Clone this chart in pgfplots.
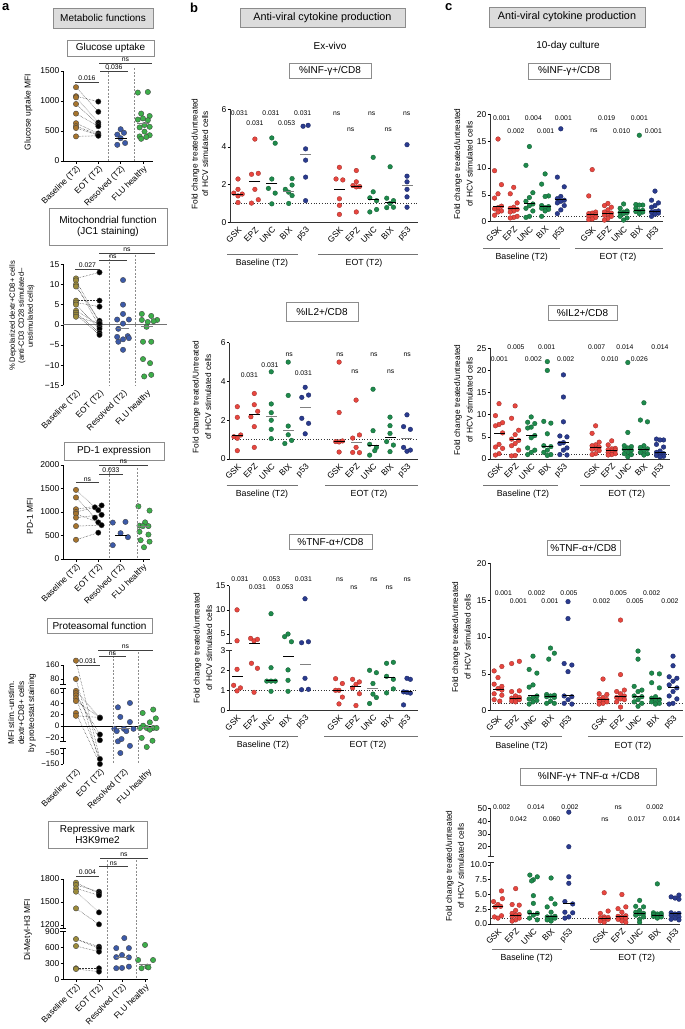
\documentclass[border=0pt]{standalone}
\usepackage{pgfplots}
\pgfplotsset{compat=1.18}
\usepackage{fontspec}
\setmainfont{Liberation Sans}
\newcommand{\fs}[2]{\fontsize{#1}{#2}\selectfont}
\definecolor{cred}{HTML}{E8463F}
\definecolor{cgreen}{HTML}{1E8A4C}
\definecolor{cblue}{HTML}{2A3B8F}
\definecolor{abrown}{HTML}{A6742D}
\definecolor{aolive}{HTML}{9C8B3A}
\definecolor{ablue}{HTML}{3C5AA8}
\definecolor{agreen}{HTML}{3DAE4A}
\definecolor{boxgray}{HTML}{DCDCDC}
\definecolor{boxedge}{HTML}{8C8C8C}
\pgfplotsset{
  base/.style={scale only axis, clip=false, anchor=south west,
    axis x line*=bottom, axis y line*=left,
    axis line style={-, line width=0.7pt, black},
    tick align=outside, major tick length=2.5pt,
    every tick/.style={line width=0.6pt, black},
    /pgf/number format/assume math mode=true,
    /pgf/number format/1000 sep={},
    yticklabel style={font=\fs{8.5}{9.5}, inner sep=1pt},
    xticklabel style={font=\fs{8.4}{9.5}, rotate=45, anchor=north east, inner sep=1pt}},
  apan/.style={base, xtick={0,1,2,3},
    xticklabels={Baseline (T2),EOT (T2),Resolved (T2),FLU healthy}},
  bpan/.style={base, xtick={0,1,2,3,4,6,7,8,9,10},
    xticklabels={GSK,EPZ,UNC,BIX,p53,GSK,EPZ,UNC,BIX,p53},
    xtick style={draw=none},
    axis line style={-, line width=0.8pt, black!80},
    xticklabel style={font=\fs{8.4}{9.5}}},
  adot/.style={only marks, mark=*, mark size=2.7pt, mark options={fill=#1, draw=black!75, line width=0.35pt}},
  bdot/.style={only marks, mark=*, mark size=2.35pt, mark options={fill=#1, draw=#1!65!black, line width=0.3pt}},
  amed/.style={only marks, mark=-, mark size=6pt, mark options={draw=#1, line width=0.7pt}},
  bmed/.style={only marks, mark=-, mark size=5.5pt, mark options={draw=#1, line width=1pt}},
  pairst/.style={black!80, densely dotted, line width=0.5pt},
  refl/.style={black!80, dotted, line width=0.7pt},
}
\newcommand{\pair}[2]{\addplot[pairst] coordinates {(0,#1) (1,#2)};}
\newcommand{\pairo}[3]{\addplot[pairst] coordinates {(0,#1) (#2,#3)};}
\newcommand{\brk}[2]{\draw[line width=0.6pt, #2] ([xshift=-3pt]rel axis cs:0,#1) -- ([xshift=3pt]rel axis cs:0,#1);}
\begin{document}
\begin{tikzpicture}
\useasboundingbox (0,0) rectangle (685pt,-1029pt);

%% ================= a1 Glucose uptake
\begin{axis}[apan, at={(63pt,-161pt)}, width=90pt, height=90pt,
  xmin=-0.583, xmax=3.45, ymin=0, ymax=1500, ytick={0,500,1000,1500}]
\pair{1230}{820}\pair{1080}{990}\pair{1060}{640}\pair{950}{610}\pair{790}{580}
\pair{630}{460}\pair{580}{440}\pair{550}{430}\pair{410}{420}
\addplot[adot=abrown] coordinates {(0,1230) (0,1080) (0,1060) (0,950) (0,790) (0,630) (0,580) (0,550) (0,410)};
\addplot[adot=black] coordinates {(1,990) (1,820) (1,640) (1,610) (1,580) (1,460) (1,440) (1,430) (1,420)};
\addplot[adot=ablue] coordinates {(2,530) (2.15,470) (1.85,440) (2,380) (2.2,300) (1.85,270)};
\addplot[adot=agreen] coordinates {(2.77,1140) (3.22,1150) (2.92,790) (3.3,750) (3.0,710) (2.77,690) (3.22,680) (3.07,600) (3.3,570) (2.85,560) (3.07,490) (3.3,430) (2.85,410) (3.15,400) (2.92,370)};
\addplot[amed=black] coordinates {(2,380)};
\addplot[amed=gray] coordinates {(3,620)};
\end{axis}

%% ================= a2 Mitochondrial
\begin{axis}[apan, at={(63pt,-385.3pt)}, width=104pt, height=121pt,
  xmin=-0.553, xmax=3.87, ymin=-15, ymax=15, ytick={-15,-10,-5,0,5,10,15},
  yticklabels={−15,−10,−5,0,5,10,15}, x axis line style={draw=none}, xtick style={draw=none}]
\addplot[black!55, line width=1.3pt] coordinates {(-0.553,0) (3.87,0)};
\pair{11.5}{13}\pair{11}{0.5}\pair{10}{-0.5}\pair{9.5}{1}\pair{6}{6}\pair{5.5}{4.5}
\pair{5}{-1}\pair{3.5}{0}\pair{3}{-2}\pair{2.5}{-2.5}\pair{2}{0.3}
\addplot[adot=aolive] coordinates {(0,11.5) (0,11) (0,10) (0,9.5) (0,6) (0,5.5) (0,5) (0,3.5) (0,3) (0,2.5) (0,2)};
\addplot[adot=black] coordinates {(1,13) (1,6) (1,4.5) (1,1) (1,0.5) (1,0) (1,-0.5) (1,-1) (1,-2) (1,-2.5) (1,0.3)};
\addplot[adot=ablue] coordinates {(2,11.1) (2,5.0) (2,2.7) (1.75,1.3) (2.25,1.3) (2,0.3) (1.8,-1.0) (2.2,-2.8) (1.75,-3.0) (2.25,-3.3) (2,-3.6) (1.8,-4.2) (2,-6.2)};
\addplot[adot=agreen] coordinates {(2.8,2.7) (3.2,2.2) (3.45,1.2) (3.05,0.7) (2.8,1.2) (3.3,0.9) (3.0,-0.5) (2.85,-4.2) (3.2,-4.2) (2.85,-8.5) (3.15,-9.5) (2.9,-12.8) (3.2,-12.4)};
\addplot[amed=gray] coordinates {(2,-0.8) (3,-0.3)};
\end{axis}

%% ================= a3 PD-1
\begin{axis}[apan, at={(63pt,-559pt)}, width=87pt, height=94pt,
  xmin=-0.583, xmax=3.32, ymin=0, ymax=2000, ytick={0,500,1000,1500,2000}]
\pairo{1470}{1}{1040}\pairo{1310}{0.85}{880}\pairo{1060}{1.15}{1140}\pairo{1000}{0.85}{1100}
\pairo{960}{1}{780}\pairo{880}{1.15}{940}\pairo{700}{1.15}{720}\pairo{410}{1}{560}
\addplot[adot=abrown] coordinates {(0,1470) (0,1310) (0,1060) (0,1000) (0,960) (0,880) (0,700) (0,410)};
\addplot[adot=black] coordinates {(1.15,1140) (0.85,1100) (1,1040) (1.15,940) (0.85,880) (1,780) (1.15,720) (1,560)};
\addplot[adot=ablue] coordinates {(1.65,775) (2.22,790) (2,550) (2.33,465) (1.65,295)};
\addplot[adot=agreen] coordinates {(2.8,1120) (3.3,1030) (3.1,780) (2.85,710) (3.25,700) (3.0,700) (2.85,580) (3.25,520) (2.9,400) (3.3,370) (3.05,250)};
\addplot[amed=black] coordinates {(2,510)};
\addplot[amed=gray] coordinates {(3,700)};
\end{axis}

%% ================= a4 Proteasomal (broken axis)
\begin{axis}[apan, at={(63pt,-764pt)}, width=95pt, height=99pt,
  xmin=-0.54, xmax=3.42, ymin=-150, ymax=160,
  y coord trafo/.code={\pgfmathparse{(#1>=70)*(85+(#1-80)*0.175)+(#1<70)*(#1>=-45)*(38+0.567*(#1))+(#1<-45)*(11+(#1+50)*0.11)}},
  ytick={-150,-50,-20,0,20,40,60,80,160}, yticklabels={−150,−50,−20,0,20,40,60,80,160},
  yticklabel style={font=\fs{8}{9}},
  x axis line style={draw=none}, xtick style={draw=none}, y axis line style={draw=none}]
\draw[line width=0.7pt] (rel axis cs:0,0) -- (rel axis cs:0,0.1616);
\draw[line width=0.7pt] (rel axis cs:0,0.2323) -- (rel axis cs:0,0.7677);
\draw[line width=0.7pt] (rel axis cs:0,0.808) -- (rel axis cs:0,1);
\brk{0.1616}{black}\brk{0.2323}{black}\brk{0.7677}{black}\brk{0.808}{black}
\addplot[black, line width=0.7pt] coordinates {(-0.54,0) (3.42,0)};
\pair{185}{-104}\pair{80}{-150}\pair{62}{14}\pair{58}{-25}\pair{54}{-15}\pair{49}{-104}\pair{44}{15}\pair{23}{-150}\pair{18}{15}
\addplot[adot=abrown] coordinates {(0,185) (0,80) (0,62) (0,58) (0,54) (0,49) (0,44) (0,23) (0,18)};
\addplot[adot=black] coordinates {(1,15) (1,14) (1,-15) (1,-25) (1,-104) (1,-150)};
\addplot[adot=ablue] coordinates {(1.75,33) (2.25,40.6) (1.85,16) (2.25,7) (1.6,-5) (2.0,-5) (2.4,-5) (1.7,-9) (2.1,-9) (1.75,-27) (1.9,-23) (2.25,-35) (1.85,-50)};
\addplot[adot=agreen] coordinates {(3.22,29) (2.78,23) (3.33,13.5) (3.08,6.5) (2.8,0.6) (2.95,-3.5) (3.22,-3.5) (2.67,-3.5) (3.36,-3.5) (3.08,-6.5) (2.74,-21) (3.19,-26) (2.95,-37)};
\addplot[amed=gray] coordinates {(2,-5) (3,-3)};
\end{axis}

%% ================= a5 H3K9me2 (broken axis)
\begin{axis}[apan, at={(63pt,-979.3pt)}, width=85pt, height=100.3pt,
  xmin=-0.565, xmax=3.13, ymin=0, ymax=1800,
  y coord trafo/.code={\pgfmathparse{(#1>=1050)*(54.3+(#1-1200)*0.0767)+(#1<1050)*(#1*0.0529)}},
  ytick={0,300,600,900,1200,1500,1800}, yticklabels={0,300,600,900,1200,1500,1800},
  y axis line style={draw=none}]
\draw[line width=0.7pt] (rel axis cs:0,0) -- (rel axis cs:0,0.4746);
\draw[line width=0.7pt] (rel axis cs:0,0.5115) -- (rel axis cs:0,1);
\brk{0.4746}{black}\brk{0.5115}{black}
\pair{1752}{1613}\pair{1722}{1635}\pair{1678}{1587}\pair{1635}{1365}\pair{1417}{1209}
\pair{761}{617}\pair{629}{522}\pair{208}{208}\pair{195}{145}\pair{761}{585}
\addplot[adot=aolive] coordinates {(0,1752) (0,1722) (0,1678) (0,1635) (0,1417) (0,761) (0,629) (0,208) (0,195)};
\addplot[adot=black] coordinates {(1,1635) (1,1613) (1,1587) (1,1365) (1,1209) (1,617) (1,585) (1,522) (1,208) (1,145)};
\addplot[adot=ablue] coordinates {(2.1,780) (1.75,590) (2.3,590) (2,460) (1.75,420) (2.3,415) (1.75,210) (2,215) (2.3,240)};
\addplot[adot=agreen] coordinates {(3,650) (2.7,365) (3.35,365) (3.1,240) (2.85,210) (3.15,225)};
\addplot[amed=gray] coordinates {(2,415) (3,280)};
\end{axis}

%% ================= b1 INF ex vivo
\begin{axis}[bpan, at={(230pt,-222.3pt)}, width=188pt, height=113pt,
  xmin=-0.473, xmax=10.65, ymin=0, ymax=6, ytick={0,2,4,6}]
\addplot[refl] coordinates {(-0.473,1) (10.65,1)};
\addplot[bdot=cred] coordinates {(0,2.3) (0,1.75) (-0.25,1.55) (0.25,1.5) (0,1.4) (0,1.05)
 (1,4.42) (0.8,2.55) (1.2,2.6) (1,1.75) (1.2,1.2) (0.8,1.02)
 (6,2.92) (5.8,2.3) (6.2,2.25) (6,1.25) (6,0.9) (6,0.42)
 (7,2.75) (7,2.15) (6.8,1.95) (7.2,1.9) (7,1.88) (7,0.55)};
\addplot[bdot=cgreen] coordinates {(2,4.48) (2.2,4.2) (2,2.3) (1.8,1.8) (2.2,1.55) (2,0.98)
 (2.8,1.75) (3.2,2.32) (3.2,1.98) (3,1.6) (3.2,1.42) (3,1.0)
 (8,3.45) (8,1.62) (7.8,1.3) (8.2,1.15) (8.2,0.68) (7.8,0.55)
 (9,2.95) (8.8,1.28) (9.2,1.15) (9,1.0) (8.8,0.78) (9.2,0.8)};
\addplot[bdot=cblue] coordinates {(3.85,5.1) (4.15,5.15) (4,3.9) (4,3.3) (4,2.4) (4,1.15)
 (10,4.12) (10,2.45) (10,2.15) (10,1.75) (10,1.35) (10,0.8)};
\addplot[bmed=black] coordinates {(0,1.5) (1,2.15) (2,2.05) (6,1.75) (7,1.92) (8,1.22) (9,1.07)};
\addplot[bmed=gray] coordinates {(3,1.65) (4,3.6) (10,1.95)};
\end{axis}

%% ================= b2 IL2 ex vivo
\begin{axis}[bpan, at={(229.3pt,-459pt)}, width=188.7pt, height=116.3pt,
  xmin=-0.473, xmax=10.65, ymin=0, ymax=6, ytick={0,2,4,6}]
\addplot[refl] coordinates {(-0.473,1) (10.65,1)};
\addplot[bdot=cred] coordinates {(0,2.7) (0,2.15) (0.2,1.24) (-0.2,1.15) (0,1.07) (0,0.43)
 (1,3.38) (1,2.8) (1.2,2.46) (0.8,2.18) (1,1.67) (1,0.6)
 (6,5.0) (6,2.4) (6.2,0.93) (5.8,0.9) (6,0.88) (6,0.36)
 (7,3.04) (7.2,1.24) (6.8,1.08) (7,0.6) (6.8,0.34) (7.2,0.33)};
\addplot[bdot=cgreen] coordinates {(2,4.5) (2,2.84) (2,2.39) (2,2.0) (2,1.53) (2,1.05)
 (3,5.0) (3,3.28) (3,1.7) (3,1.25) (3.2,0.96) (2.8,0.8)
 (8,3.6) (8,1.46) (7.8,0.76) (8.2,0.6) (8.1,0.43) (7.8,0.2)
 (9,2.16) (9,1.72) (9,1.32) (8.8,0.9) (9.2,0.72) (9,0.38)};
\addplot[bdot=cblue] coordinates {(4,3.7) (4.2,3.3) (3.8,3.18) (3.8,2.1) (4.2,1.84) (4,1.3)
 (10,2.28) (9.8,1.67) (10.2,1.53) (9.8,0.6) (10,0.4) (10.2,0.46)};
\addplot[bmed=black] coordinates {(0,1.2) (1,2.32) (6,0.9) (8,0.68) (9,1.11)};
\addplot[bmed=gray] coordinates {(2,2.2) (3,1.48) (4,2.64) (7,0.84) (10,1.06)};
\end{axis}

%% ================= b3 TNF ex vivo (broken)
\begin{axis}[bpan, at={(229pt,-710.3pt)}, width=189pt, height=124.6pt,
  xmin=-0.473, xmax=10.65, ymin=0, ymax=15,
  y coord trafo/.code={\pgfmathparse{(#1>3.02)*(66.6+(#1-3)*4.83)+(#1<=3.02)*(20*#1)}},
  ytick={0,1,2,3,5,10,15}, yticklabels={0,1,2,3,5,10,15}, y axis line style={draw=none}]
\draw[line width=0.8pt, black!80] (rel axis cs:0,0) -- (rel axis cs:0,0.4815);
\draw[line width=0.8pt, black!80] (rel axis cs:0,0.5345) -- (rel axis cs:0,1);
\brk{0.4815}{black!80}\brk{0.5345}{black!80}
\addplot[refl] coordinates {(-0.473,1) (10.65,1)};
\addplot[bdot=cred] coordinates {(0,10) (0,3.6) (0,2.05) (-0.2,1.25) (0.2,1.12) (0,0.97)
 (0.8,4.1) (1,3.6) (1.2,3.9) (0.85,2.35) (1.2,2.1) (1,0.9)
 (5.8,1.58) (6.2,1.34) (6,1.0) (5.8,1.0) (6.2,0.66) (6,0.32)
 (6.8,1.55) (7.2,1.42) (7,1.3) (6.8,1.12) (7.2,0.83) (7,0.24)};
\addplot[bdot=cgreen] coordinates {(2,9.2) (2,2.13) (1.75,1.46) (2,1.46) (2.25,1.46) (2,0.95)
 (2.8,4.45) (3,5.0) (3.2,3.4) (3,2.02) (3,1.5) (3,0.95)
 (7.8,2.0) (8.2,1.88) (8,1.34) (8,0.81) (8.2,0.64) (7.8,0.34)
 (8.8,2.35) (9.2,2.4) (8.8,1.7) (9.2,1.55) (9.2,1.07) (8.8,0.87)};
\addplot[bdot=cblue] coordinates {(4,12.3) (3.8,3.2) (4.2,3.4) (4,1.6) (3.8,1.03) (4.2,1.05)
 (10,1.6) (10.2,1.55) (9.8,0.92) (10,0.9) (10.2,0.86) (9.8,0.27)};
\addplot[bmed=black] coordinates {(0,1.7) (1,3.07) (2,1.47) (3,2.7) (6,1.0) (7,1.2) (9,1.62) (10,0.95)};
\addplot[bmed=gray] coordinates {(4,2.3) (8,1.1)};
\end{axis}

%% ================= c1 INF 10-day
\begin{axis}[bpan, at={(490pt,-221.7pt)}, width=173pt, height=107.4pt,
  xmin=-0.51, xmax=10.51, ymin=0, ymax=20, ytick={0,5,10,15,20}]
\addplot[refl] coordinates {(-0.51,1) (10.51,1)};
\addplot[bdot=cred] coordinates {(0,15.4) (-0.22,9.5) (0.22,6.9) (0,5.2) (-0.22,4.4) (0.22,2.9) (0,2.6) (-0.22,2.4) (0.22,2.0) (0,1.8) (-0.22,1.2)
 (1,6.4) (0.78,5.2) (1.22,3.5) (1,2.7) (0.78,2.5) (1.22,2.3) (1,2.0) (0.78,1.8) (1.22,1.0) (1,0.8) (0.78,0.7)
 (6,9.7) (5.78,4.8) (6.22,1.8) (6,1.6) (5.78,1.5) (6.22,1.3) (6,1.2) (5.78,1.0) (6.22,0.8) (6,0.5) (5.78,0.4)
 (7,3.4) (6.78,3.0) (7.22,2.7) (7,2.2) (6.78,1.8) (7.22,1.6) (7,1.5) (6.78,1.2) (7.22,1.0) (7,0.6) (6.78,0.3)};
\addplot[bdot=cgreen] coordinates {(2,14.0) (1.78,10.5) (2.22,5.4) (2,4.5) (1.78,3.8) (2.22,3.3) (2,3.0) (1.78,2.5) (2.22,2.0) (2,1.0) (1.78,0.8)
 (3,8.9) (2.78,7.0) (3.22,4.8) (3,4.7) (2.78,3.0) (3.22,2.8) (3,2.6) (2.78,2.5) (3.22,2.3) (3,2.0) (2.78,1.0)
 (8,3.3) (7.78,2.5) (8.22,2.0) (8,1.8) (7.78,1.7) (8.22,1.7) (8,1.5) (7.78,1.0) (8.22,0.7) (8,0.3)
 (9,16.1) (8.78,3.2) (9.22,3.1) (9,3.1) (8.78,2.5) (9.22,2.1) (9,2.0) (8.78,1.9) (9.22,1.8) (9,1.5)};
\addplot[bdot=cblue] coordinates {(4,17.3) (3.78,8.3) (4.22,6.5) (4,4.7) (3.78,4.3) (4.22,4.0) (4,3.8) (3.78,3.5) (4.22,3.0) (4,2.2) (3.78,1.5)
 (10,5.7) (9.78,4.0) (10.22,3.5) (10,3.0) (9.78,2.7) (10.22,2.0) (10,1.9) (9.78,1.8) (10.22,1.6) (10,1.4) (9.78,1.0)};
\addplot[bmed=black] coordinates {(0,2.9) (1,2.4) (2,3.3) (3,2.8) (4,4.1) (6,1.3) (7,1.6) (8,1.7) (9,2.0) (10,1.9)};
\end{axis}

%% ================= c2 IL2 10-day
\begin{axis}[bpan, at={(490pt,-459pt)}, width=180pt, height=110.7pt,
  xmin=-0.56, xmax=10.62, ymin=0, ymax=25, ytick={0,5,10,15,20,25}]
\addplot[refl] coordinates {(-0.56,1) (10.62,1)};
\addplot[bdot=cred] coordinates {(0,12.5) (-0.22,9.8) (0.22,8.2) (0,7.8) (-0.22,7.5) (0.22,5.9) (0,3.3) (-0.22,2.7) (0.22,2.4) (0,1.2) (-0.22,0.9)
 (1,12.0) (0.78,9.2) (1.22,6.5) (1,5.5) (0.78,4.5) (1.22,4.2) (1,3.5) (0.78,3.0) (1.22,2.0) (1,0.8) (0.78,0.7)
 (6,7.5) (5.78,5.8) (6.22,3.8) (6,3.2) (5.78,3.0) (6.22,2.7) (6,2.4) (5.78,2.2) (6.22,1.9) (6,1.2) (5.78,1.0)
 (7,4.1) (6.78,3.2) (7.22,2.4) (7,2.3) (6.78,2.1) (7.22,2.0) (7,1.8) (6.78,1.5) (7.22,1.2) (7,1.0) (6.78,0.9)};
\addplot[bdot=cgreen] coordinates {(2,9.5) (1.78,8.3) (2.22,8.0) (2,7.2) (1.78,7.0) (2.22,5.3) (2,4.8) (1.78,2.5) (2.22,2.0) (2,1.5) (1.78,1.0)
 (3,22.0) (3,20.0) (2.78,8.5) (3.22,8.1) (3,5.7) (2.78,3.0) (3.22,2.8) (3,2.0) (2.78,1.5) (3.22,1.0) (3,0.8)
 (8,21.8) (8,6.0) (7.78,3.0) (8.22,2.8) (8,2.5) (7.78,2.2) (8.22,2.0) (8,1.5) (7.78,1.2) (8.22,1.0) (8,0.5)
 (9,12.7) (8.78,8.8) (9.22,8.4) (9,3.0) (8.78,2.6) (9.22,2.3) (9,1.9) (8.78,1.5) (9.22,1.2) (9,0.9)};
\addplot[bdot=cblue] coordinates {(4,19.0) (4,14.0) (4,8.4) (3.78,5.2) (4.22,5.0) (4,3.7) (3.78,3.5) (4.22,2.5) (4,2.0) (3.78,1.0) (4.22,0.9)
 (9.78,4.5) (10.22,4.3) (10,4.3) (9.78,3.3) (10.22,2.7) (10,1.8) (9.78,1.5) (10.22,1.2) (10,1.0) (9.78,0.8) (10.22,0.6) (10,0.5)};
\addplot[bmed=black] coordinates {(0,5.8) (1,4.3) (2,5.3) (3,2.9) (4,3.7) (6,2.6) (7,2.0) (8,2.2) (9,2.2) (10,1.5)};
\end{axis}

%% ================= c3 TNF 10-day
\begin{axis}[bpan, at={(490pt,-710.7pt)}, width=193pt, height=147.4pt,
  xmin=-0.457, xmax=10.57, ymin=0, ymax=20, ytick={0,5,10,15,20}]
\addplot[refl] coordinates {(-0.457,1) (10.57,1)};
\addplot[bdot=cred] coordinates {(0.22,6.0) (-0.22,5.4) (0,4.5) (-0.22,3.6) (0.22,3.3) (0,3.0) (0.22,2.8) (-0.22,2.3) (0.22,2.1) (-0.22,1.5) (0.1,1.3)
 (1.22,6.7) (0.78,6.4) (1.22,2.7) (0.78,2.6) (1,2.0) (1.22,1.8) (0.78,1.7) (1,1.6) (1.22,1.5) (0.78,1.3) (1,1.2)
 (6,4.3) (5.78,2.3) (6.22,2.2) (6,1.8) (5.78,1.6) (6.22,1.5) (6,1.4) (5.78,1.3) (6.22,1.2) (6,1.0) (5.78,0.9)
 (7,12.3) (7,4.9) (7.22,2.8) (6.78,2.6) (7,2.3) (7.22,2.0) (6.78,1.8) (7,1.6) (7.22,1.5) (6.78,1.2) (7,0.5)};
\addplot[bdot=cgreen] coordinates {(2,7.4) (1.78,5.6) (2.22,5.1) (2,3.5) (1.78,3.2) (2.22,2.0) (2,1.8) (1.78,1.6) (2.22,1.4) (2,1.2) (1.78,0.9)
 (3,8.5) (3.22,7.8) (2.9,7.0) (2.78,2.2) (3.22,2.1) (3,2.0) (2.78,1.9) (3.22,1.8) (3,1.3) (2.78,1.0) (3.22,1.0)
 (8,8.1) (8,7.0) (7.78,3.3) (8.22,2.8) (8,2.6) (7.78,2.0) (8.22,1.9) (8,1.5) (7.78,1.2) (8.22,1.0) (8,0.6)
 (8.78,5.1) (9.22,5.0) (8.78,3.8) (9.22,3.1) (9,1.9) (8.78,1.7) (9.22,1.5) (9,1.4) (8.78,1.2) (9.22,1.0) (9,0.9)};
\addplot[bdot=cblue] coordinates {(4,14.8) (4,12.5) (3.78,6.4) (4.22,6.2) (4,5.3) (3.78,2.0) (4.22,1.9) (4,1.5) (3.78,1.0) (4.22,0.9)
 (10,7.4) (10,6.1) (9.78,4.6) (10.22,4.4) (10,4.0) (9.78,3.5) (10.22,3.1) (10,2.6) (9.78,2.0) (10.22,1.6) (10,1.0) (9.78,0.9)};
\addplot[bmed=black] coordinates {(0,2.9) (1,1.7) (2,2.0) (3,1.9) (4,2.0) (6,1.5) (7,1.9) (8,1.9) (9,1.7) (10,3.1)};
\end{axis}

%% ================= c4 INF+TNF 10-day (broken)
\begin{axis}[bpan, at={(490.7pt,-924pt)}, width=189.3pt, height=115.7pt,
  xmin=-0.41, xmax=10.28, ymin=0, ymax=50,
  y coord trafo/.code={\pgfmathparse{(#1>11)*(67.3+(#1-12.2)*1.28)+(#1<=11)*(5.9*#1)}},
  ytick={0,2.5,5,7.5,10,20,30,40,50}, yticklabels={0.0,2.5,5.0,7.5,10.0,20,30,40,50},
  y axis line style={draw=none}]
\draw[line width=0.8pt, black!80] (rel axis cs:0,0) -- (rel axis cs:0,0.5307);
\draw[line width=0.8pt, black!80] (rel axis cs:0,0.5817) -- (rel axis cs:0,1);
\brk{0.5307}{black!80}\brk{0.5817}{black!80}
\addplot[refl] coordinates {(-0.41,1) (10.28,1)};
\addplot[bdot=cred] coordinates {(0.2,5.6) (0.25,4.3) (-0.25,3.8) (0,3.3) (0.15,3.0) (-0.15,2.9) (0.2,1.4) (-0.2,1.2) (0,1.0)
 (1,6.0) (0.8,3.3) (1.2,3.2) (1,2.3) (0.8,1.8) (1.2,1.6) (1,1.5) (0.8,1.3) (1.2,1.0) (1,0.7) (0.8,0.5)
 (6,5.3) (6.22,2.2) (5.78,1.8) (6,1.2) (6.22,1.1) (5.78,1.0) (6,0.9) (6.22,0.8) (5.78,0.5) (6,0.3)
 (7,5.0) (7.22,2.9) (6.78,2.6) (7,2.0) (7.22,1.4) (6.78,1.3) (7,1.2) (7.22,1.0) (6.78,0.8) (7,0.5) (7.22,0.3)};
\addplot[bdot=cgreen] coordinates {(1.8,8.3) (2.22,8.0) (2,7.5) (1.9,7.3) (2,4.8) (2,3.5) (1.78,2.0) (2.22,1.8) (2,1.5) (1.78,1.0) (2.22,0.7)
 (3,7.8) (3,4.3) (3.22,3.4) (2.78,2.9) (3,2.0) (3.22,1.3) (2.78,1.2) (3,1.1) (3.22,1.0) (2.78,0.7) (3,0.5)
 (8,4.0) (7.78,3.0) (8.22,2.9) (8,2.3) (7.78,2.0) (8.22,1.8) (8,1.7) (7.78,1.5) (8.22,1.2) (8,0.8) (8,0.3)
 (9,6.8) (8.78,1.9) (9.22,1.8) (9,1.7) (8.78,1.6) (9.22,1.5) (9,1.4) (8.78,1.3) (9.22,1.2) (9,1.0)};
\addplot[bdot=cblue] coordinates {(4,47) (4,20) (4,8.0) (4,6.9) (3.78,3.8) (4.22,3.4) (3.78,2.0) (4.22,1.9) (4,1.2) (3.78,1.0)
 (10.22,4.9) (9.78,4.6) (10,4.4) (10.22,4.2) (9.78,1.9) (10.22,1.8) (10,1.7) (9.78,1.5) (10.22,1.2) (10,1.0) (9.78,0.8) (10.22,0.7)};
\addplot[bmed=black] coordinates {(0,3.0) (1,1.5) (2,1.8) (3,1.3) (4,3.4) (6,1.0) (7,1.2) (8,1.8) (9,1.5) (10,1.8)};
\end{axis}

%% ================= annotations (pixel coordinates)
\begin{scope}[x=1pt, y=-1pt, every node/.style={inner sep=0pt},
  boxst/.style={draw=boxedge, line width=0.6pt},
  tf/.style={font=\fs{10}{11.5}, align=center},
  tfb/.style={font=\fs{10.8}{12}, align=center},
  pv/.style={font=\fs{6.8}{8}},
  sig/.style={black!75, line width=0.6pt},
  sep/.style={black!45, line width=0.5pt, dash pattern=on 2pt off 1.5pt},
  grp/.style={black!55, line width=0.8pt},
  gl/.style={font=\fs{8.8}{10}},
  yl/.style={rotate=90, align=center}]
\node[anchor=north west, font=\bfseries\fs{13}{15}] at (2,3) {a};
\node[anchor=north west, font=\bfseries\fs{13}{15}] at (190,3) {b};
\node[anchor=north west, font=\bfseries\fs{13}{15}] at (445,3) {c};
\draw[boxst, fill=boxgray] (53,8) rectangle (153,28); \node[tf] at (103,18) {Metabolic functions};
\draw[boxst] (67,40) rectangle (154,56); \node[tf] at (110.5,48) {Glucose uptake};
\draw[boxst] (49,208) rectangle (167,245); \node[tf] at (108,226.5) {Mitochondrial function\\(JC1 staining)};
\draw[boxst] (64,442) rectangle (164,460); \node[tf] at (114,451) {PD-1 expression};
\draw[boxst] (47,618) rectangle (152,633); \node[tf] at (99.5,625.5) {Proteasomal function};
\draw[boxst] (48,821) rectangle (147,848); \node[tf] at (97.5,834.5) {Repressive mark\\H3K9me2};
\node[yl, font=\fs{8.5}{10}] at (28.5,112) {Glucose uptake MFI};
\node[yl, font=\fs{7.6}{9}] at (22,316) {\% Depolarized dextr+CD8+ cells\\(anti-CD3 CD28 stimulated–\\unstimulated cells)};
\node[yl, font=\fs{8.5}{10}] at (30,516) {PD-1 MFI};
\node[yl, font=\fs{8.3}{10}] at (22,713) {MFI stim.-unstim.\\dextr+CD8+ cells\\by proteostat staining};
\node[yl, font=\fs{8.5}{10}] at (28,930) {Di-Metyl-H3 MFI};
\draw[sep] (108,68) -- (108,161); \draw[sep] (134,68) -- (134,161);
\draw[sep] (109,255) -- (109,385); \draw[sep] (135,255) -- (135,385);
\draw[sep] (109,468) -- (109,559); \draw[sep] (137,468) -- (137,559);
\draw[sep] (113,652) -- (113,764); \draw[sep] (138,652) -- (138,764);
\draw[sep] (107,860) -- (107,979); \draw[sep] (136,860) -- (136,979);
\draw[sig] (75,82) -- (99,82); \node[pv] at (87,77.8) {0.016};
\draw[sig] (100,71) -- (128,71); \node[pv] at (114,66.8) {0.036};
\draw[sig] (99,63.3) -- (152,63.3); \node[pv] at (125.5,59.8) {ns};
\draw[sig] (75,269.3) -- (100,269.3); \node[pv] at (87.5,265.5) {0.027};
\draw[sig] (99,260) -- (127,260); \node[pv] at (113,256.8) {ns};
\draw[sig] (99,253.3) -- (155,253.3); \node[pv] at (127,250) {ns};
\draw[sig] (76,482.7) -- (99,482.7); \node[pv] at (87.5,479.5) {ns};
\draw[sig] (99,474) -- (122.7,474); \node[pv] at (111,470.3) {0.033};
\draw[sig] (99,465) -- (148,465); \node[pv] at (123.5,461.8) {ns};
\draw[sig] (98,650.3) -- (153,650.3); \node[pv] at (125.5,647) {ns};
\draw[sig] (99,656.7) -- (126,656.7); \node[pv] at (112.5,653.8) {ns};
\draw[sig] (76,665) -- (100,665); \node[pv] at (88,661.5) {0.031};
\draw[sig] (100,858.3) -- (148,858.3); \node[pv] at (124,855) {ns};
\draw[sig] (99,866.7) -- (128,866.7); \node[pv] at (113.5,863.3) {ns};
\draw[sig] (76,876) -- (99,876); \node[pv] at (87.5,872.5) {0.004};
\draw[boxst, fill=boxgray] (240,8) rectangle (405,27); \node[tfb] at (322.5,17.5) {Anti-viral cytokine production};
\node[tf] at (330,46) {Ex-vivo};
\draw[boxst] (289,63) rectangle (371,78); \node[tf] at (330,70.5) {\%INF-γ+/CD8};
\draw[boxst] (286,302) rectangle (358,321.7); \node[tf] at (322,311.8) {\%IL2+/CD8};
\draw[boxst] (289,534) rectangle (372,549); \node[tf] at (330.5,541.5) {\%TNF-α+/CD8};
\draw[boxst, fill=boxgray] (489,7) rectangle (645,27); \node[tfb] at (567,17) {Anti-viral cytokine production};
\node[tf] at (568,46) {10-day culture};
\draw[boxst] (528,63) rectangle (610,79); \node[tf] at (569,71) {\%INF-γ+/CD8};
\draw[boxst] (548,305) rectangle (617,320); \node[tf] at (582.5,312.5) {\%IL2+/CD8};
\draw[boxst] (547,540) rectangle (620,555); \node[tf] at (583.5,547.5) {\%TNF-α+/CD8};
\draw[boxst] (520.7,768) rectangle (656.7,785); \node[tf] at (588.7,776.5) {\%INF-γ+ TNF-α +/CD8};
\node[yl, font=\fs{8.3}{10.5}] at (200,154) {Fold change treated/untreated\\of HCV stimulated cells};
\node[yl, font=\fs{8.3}{12.5}] at (202,397) {Fold change treated/Untreated\\of HCV stimulated cells};
\node[yl, font=\fs{8.3}{12.5}] at (203,648) {Fold change treated/untreated\\of HCV stimulated cells};
\node[yl, font=\fs{8.3}{12.5}] at (463.5,164) {Fold change treated/untreated\\of HCV stimulated cells};
\node[yl, font=\fs{8.3}{12.5}] at (463.5,400) {Fold change treated/untreated\\of HCV stimulated cells};
\node[yl, font=\fs{8.3}{12.5}] at (461.5,637) {Fold change treated/untreated\\of HCV stimulated cells};
\node[yl, font=\fs{8.3}{12}] at (455,866) {Fold change treated/untreated\\of HCV stimulated cells};
\draw[grp] (227,254) -- (298,254); \node[gl] at (262,263.3) {Baseline (T2)};
\draw[grp] (318,254) -- (418,254); \node[gl] at (364,263.3) {EOT (T2)};
\draw[grp] (226.7,485) -- (298.3,485); \node[gl] at (262,494) {Baseline (T2)};
\draw[grp] (325,485) -- (418,485); \node[gl] at (369,494) {EOT (T2)};
\draw[grp] (229,736.7) -- (298,736.7); \node[gl] at (263,745.5) {Baseline (T2)};
\draw[grp] (324,736.7) -- (418,736.7); \node[gl] at (368,745.5) {EOT (T2)};
\draw[grp] (483,248.3) -- (560,248.3); \node[gl] at (521.7,257.3) {Baseline (T2)};
\draw[grp] (575,248.3) -- (663,248.3); \node[gl] at (618,257.3) {EOT (T2)};
\draw[grp] (483,485) -- (558,485); \node[gl] at (523,494) {Baseline (T2)};
\draw[grp] (580,485) -- (670,485); \node[gl] at (626.7,494) {EOT (T2)};
\draw[grp] (490,736.7) -- (561.7,736.7); \node[gl] at (521.7,746) {Baseline (T2)};
\draw[grp] (588,736.7) -- (683,736.7); \node[gl] at (633,746) {EOT (T2)};
\draw[grp] (491.7,949) -- (561.7,949); \node[gl] at (526.7,958.3) {Baseline (T2)};
\draw[grp] (590,949) -- (680,949); \node[gl] at (636.7,958.3) {EOT (T2)};
\node[pv] at (239.3,112.7) {0.031}; \node[pv] at (271,112.7) {0.031}; \node[pv] at (302.7,112.7) {0.031};
\node[pv] at (255,123.3) {0.031}; \node[pv] at (286.7,123.3) {0.053};
\node[pv] at (336.7,114) {ns}; \node[pv] at (371.7,114) {ns}; \node[pv] at (406.7,114) {ns};
\node[pv] at (350.7,129.3) {ns}; \node[pv] at (388.3,129.3) {ns};
\node[pv] at (289.3,355) {ns}; \node[pv] at (270,365) {0.031}; \node[pv] at (249.3,375) {0.031}; \node[pv] at (303.3,373.3) {0.031};
\node[pv] at (340,355) {ns}; \node[pv] at (374,355) {ns}; \node[pv] at (407.3,355) {ns};
\node[pv] at (355,371.7) {ns}; \node[pv] at (390.7,371.7) {ns};
\node[pv] at (240,579.3) {0.031}; \node[pv] at (271.7,579.3) {0.053}; \node[pv] at (303.3,579.3) {0.031};
\node[pv] at (257.3,587.3) {0.031}; \node[pv] at (285,587.3) {0.053};
\node[pv] at (339.7,579.3) {ns}; \node[pv] at (374,579.3) {ns}; \node[pv] at (407.3,579.3) {ns};
\node[pv] at (354,587.3) {ns}; \node[pv] at (389.3,587.3) {ns};
\node[pv] at (501.7,117.7) {0.001}; \node[pv] at (533.3,117.7) {0.004}; \node[pv] at (563.3,117.7) {0.001};
\node[pv] at (606.7,117.7) {0.019}; \node[pv] at (639.3,117.7) {0.001};
\node[pv] at (516,131) {0.002}; \node[pv] at (545.7,131) {0.001}; \node[pv] at (594,131) {ns};
\node[pv] at (621.7,131) {0.010}; \node[pv] at (653.3,131) {0.001};
\node[pv] at (516,347.3) {0.005}; \node[pv] at (546.7,347.3) {0.001}; \node[pv] at (596.7,347.3) {0.007};
\node[pv] at (625,347.3) {0.014}; \node[pv] at (660,347.3) {0.014};
\node[pv] at (499.3,359.3) {0.001}; \node[pv] at (533.3,359.3) {0.002}; \node[pv] at (565.7,359.3) {0.002};
\node[pv] at (610,359.3) {0.010}; \node[pv] at (639.3,359.3) {0.026};
\node[pv] at (503.3,593.3) {0.001}; \node[pv] at (536.7,593.3) {0.002}; \node[pv] at (569,593.3) {0.005};
\node[pv] at (618.3,593.3) {0.005}; \node[pv] at (651.7,593.3) {0.002};
\node[pv] at (518.3,600.7) {0.001}; \node[pv] at (550,600.7) {0.001}; \node[pv] at (601.7,600.7) {0.002};
\node[pv] at (635,600.7) {0.005}; \node[pv] at (670,600.7) {0.002};
\node[pv] at (501.7,807.3) {0.002}; \node[pv] at (536,807.3) {0.014}; \node[pv] at (570,807.3) {0.002};
\node[pv] at (618.3,807.3) {ns}; \node[pv] at (655,807.3) {0.002};
\node[pv] at (518.3,819.3) {0.042}; \node[pv] at (551.7,819.3) {0.060}; \node[pv] at (605,819.3) {ns};
\node[pv] at (636.7,819.3) {0.017}; \node[pv] at (671.7,819.3) {0.014};
\end{scope}
\end{tikzpicture}
\end{document}
